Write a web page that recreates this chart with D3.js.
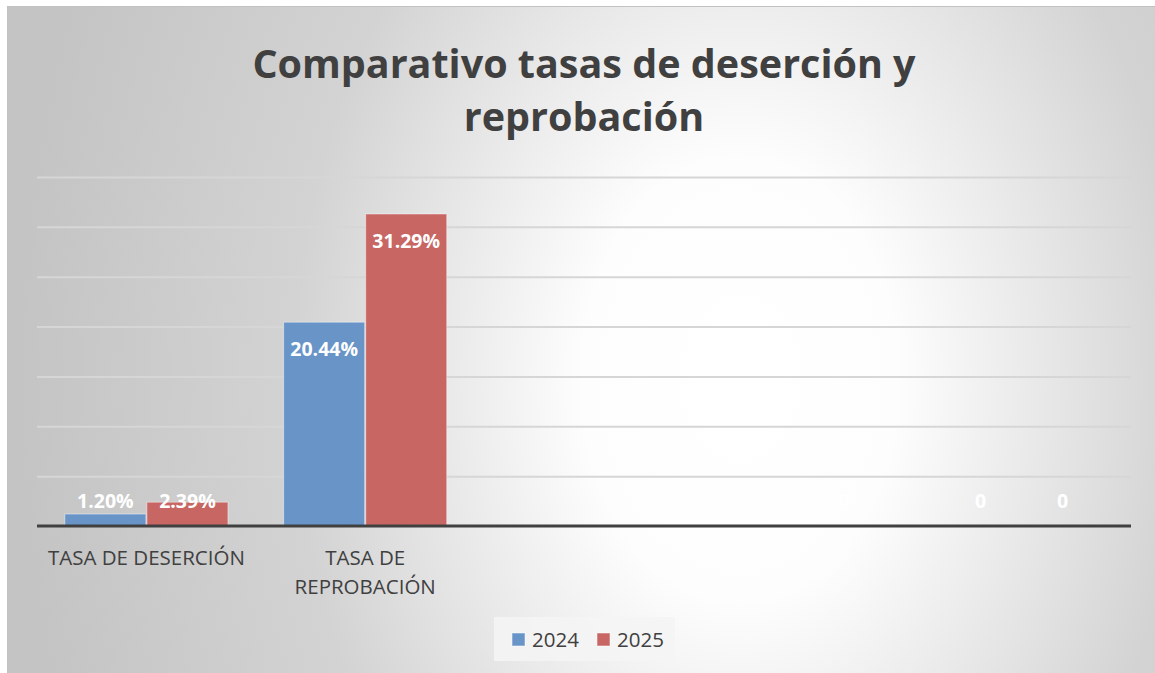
<!DOCTYPE html>
<html>
<head>
<meta charset="utf-8">
<script src="https://cdn.jsdelivr.net/npm/d3@7"></script>
<style>
  body { margin: 0; background: #fff; }
  svg { display: block; font-family: "Open Sans", sans-serif; }
</style>
</head>
<body>
<svg id="chart"></svg>
<script>
// data
const categories = ["TASA DE DESERCIÓN", "TASA DE\nREPROBACIÓN", "", "", ""];
const series = ["2024", "2025"];
const values2024 = [0.012, 0.2044, null, null, 0];
const values2025 = [0.0239, 0.3129, null, 0, 0];
const yTicks = [0.05, 0.1, 0.15, 0.2, 0.25, 0.3, 0.35];
const titleLines = ["Comparativo tasas de deserción y", "reprobación"];

const W = 1155, H = 673;
const plot = { left: 37, right: 1131, top: 177, bottom: 526 };
const colors = { "2024": "#6894c8", "2025": "#c86664" };

const svg = d3.select("#chart").attr("width", W).attr("height", H);
const defs = svg.append("defs");

// background: soft radial gradient like the office chart style
const bg = defs.append("radialGradient")
  .attr("id", "bg")
  .attr("gradientUnits", "userSpaceOnUse")
  .attr("cx", 740).attr("cy", 380).attr("r", 720)
  .attr("gradientTransform", "translate(740,380) scale(1,1.4) translate(-740,-380)");
bg.append("stop").attr("offset", 0).attr("stop-color", "#ffffff");
bg.append("stop").attr("offset", 0.22).attr("stop-color", "#fdfdfd");
bg.append("stop").attr("offset", 0.62).attr("stop-color", "#d3d3d3");
bg.append("stop").attr("offset", 1).attr("stop-color", "#c4c4c4");

const gridGrad = defs.append("linearGradient")
  .attr("id", "grid")
  .attr("gradientUnits", "userSpaceOnUse")
  .attr("x1", 0).attr("y1", plot.top).attr("x2", 0).attr("y2", 477);
gridGrad.append("stop").attr("offset", 0).attr("stop-color", "#d6d6d6");
gridGrad.append("stop").attr("offset", 1).attr("stop-color", "#8a8a8a");

svg.append("rect")
  .attr("x", 7.5).attr("y", 6.5)
  .attr("width", W - 7).attr("height", H - 6)
  .attr("fill", "url(#bg)")
  .attr("stroke", "#c2c2c2");

// title
svg.append("text")
  .attr("x", 584).attr("y", 78)
  .attr("text-anchor", "middle")
  .attr("font-weight", "bold")
  .attr("font-size", 39.5)
  .attr("fill", "#404040")
  .selectAll("tspan")
  .data(titleLines)
  .join("tspan")
  .attr("x", 584)
  .attr("dy", (d, i) => (i ? 53 : 0))
  .text((d) => d);

// scales
const x0 = d3.scaleBand()
  .domain(d3.range(categories.length))
  .range([plot.left, plot.right])
  .paddingInner(0.25)
  .paddingOuter(0.125);
const x1 = d3.scaleBand().domain(series).range([0, x0.bandwidth()]);
const y = d3.scaleLinear().domain([0, 0.35]).range([plot.bottom, plot.top]);

// gridlines
const grid = svg.append("g")
  .attr("transform", `translate(${plot.left},0)`)
  .call(d3.axisLeft(y).tickValues(yTicks).tickSize(-(plot.right - plot.left)).tickFormat(""));
grid.select(".domain").remove();
grid.selectAll("line").attr("stroke", "url(#grid)").attr("stroke-width", 2);

// bars
const rows = categories.map((c, i) => ({
  i,
  vals: [
    { key: "2024", v: values2024[i] },
    { key: "2025", v: values2025[i] },
  ],
}));

const groups = svg.append("g")
  .selectAll("g")
  .data(rows)
  .join("g")
  .attr("transform", (d) => `translate(${x0(d.i)},0)`);

groups.selectAll("rect")
  .data((d) => d.vals.filter((e) => e.v !== null && e.v > 0))
  .join("rect")
  .attr("x", (d) => x1(d.key) + 0.5)
  .attr("width", x1.bandwidth() - 1)
  .attr("y", (d) => y(d.v))
  .attr("height", (d) => y(0) - y(d.v))
  .attr("fill", (d) => colors[d.key])
  .attr("stroke", "rgba(255,255,255,0.45)")
  .attr("stroke-width", 1);

// data labels (inside end)
const fmt = (v) => (v === 0 ? "0" : d3.format(".2%")(v));
groups.selectAll("text")
  .data((d) => d.vals.filter((e) => e.v !== null))
  .join("text")
  .attr("x", (d) => x1(d.key) + x1.bandwidth() / 2)
  .attr("y", (d) => Math.min(y(d.v) + 27, y(0) - 25))
  .attr("dy", "0.36em")
  .attr("text-anchor", "middle")
  .attr("font-weight", "bold")
  .attr("font-size", 19.5)
  .attr("fill", "#ffffff")
  .text((d) => fmt(d.v));

// baseline
svg.append("line")
  .attr("x1", plot.left).attr("x2", plot.right)
  .attr("y1", y(0)).attr("y2", y(0))
  .attr("stroke", "#404040")
  .attr("stroke-width", 3);

// category labels
const catLabels = svg.append("g")
  .selectAll("text")
  .data(categories.map((c, i) => ({ c, i })))
  .join("text")
  .attr("x", (d) => x0(d.i) + x0.bandwidth() / 2)
  .attr("y", 565)
  .attr("text-anchor", "middle")
  .attr("font-size", 20.5)
  .attr("fill", "#404040");
catLabels.selectAll("tspan")
  .data((d) => d.c.split("\n").map((t) => ({ t, x: x0(d.i) + x0.bandwidth() / 2 })))
  .join("tspan")
  .attr("x", (d) => d.x)
  .attr("dy", (d, i) => (i ? 29 : 0))
  .text((d) => d.t);

// legend
const legend = svg.append("g");
legend.append("rect")
  .attr("x", 494).attr("y", 617)
  .attr("width", 181).attr("height", 44)
  .attr("fill", "#f4f4f4")
  .attr("opacity", 0.85);
const item = legend.selectAll("g.item")
  .data(series)
  .join("g")
  .attr("class", "item")
  .attr("transform", (d, i) => `translate(${512 + i * 85},633)`);
item.append("rect")
  .attr("width", 13).attr("height", 13)
  .attr("fill", (d) => colors[d])
  .attr("stroke", "rgba(255,255,255,0.5)");
item.append("text")
  .attr("x", 20).attr("y", 6.5)
  .attr("dy", "0.36em")
  .attr("font-size", 20.5)
  .attr("fill", "#404040")
  .text((d) => d);
</script>
</body>
</html>
